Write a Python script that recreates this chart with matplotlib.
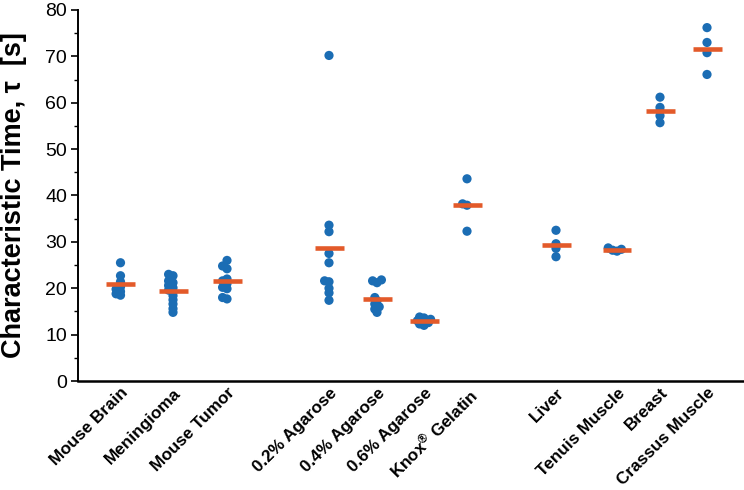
import numpy as np
import matplotlib.pyplot as plt
from matplotlib.ticker import MultipleLocator

plt.rcParams['font.family'] = ['Liberation Sans', 'DejaVu Sans']
plt.rcParams['mathtext.fontset'] = 'custom'
plt.rcParams['mathtext.rm'] = 'Liberation Sans:bold'
plt.rcParams['mathtext.it'] = 'Liberation Sans:bold'
plt.rcParams['mathtext.bf'] = 'Liberation Sans:bold'

# data
categories = ['Mouse Brain', 'Meningioma', 'Mouse Tumor', '0.2% Agarose', '0.4% Agarose',
              '0.6% Agarose', 'Knox$^{®}$ Gelatin', 'Liver', 'Tenuis Muscle', 'Breast',
              'Crassus Muscle']
mouse_brain = [25.5, 22.7, 21.4, 20.3, 19.8, 19.3, 18.8, 18.5]
meningioma = [23.0, 22.7, 21.6, 21.2, 20.6, 20.1, 19.6, 19.2, 18.4, 17.5, 16.6, 15.6, 14.8]
mouse_tumor = [26.0, 24.8, 24.2, 22.0, 21.6, 21.0, 20.2, 19.9, 18.0, 17.7]
agarose_02 = [70.2, 33.6, 32.2, 27.5, 25.5, 21.6, 21.4, 20.0, 19.0, 17.4]
agarose_04 = [21.8, 21.6, 21.2, 18.0, 17.3, 16.6, 16.0, 15.5, 14.8]
agarose_06 = [13.8, 13.6, 13.3, 13.0, 12.8, 12.6, 12.3, 12.0]
knox = [43.6, 38.2, 37.9, 32.3]
liver = [32.5, 29.6, 28.6, 26.8]
tenuis = [28.7, 28.4, 28.2, 28.0]
breast = [61.2, 59.0, 58.2, 57.2, 55.7]
crassus = [76.2, 73.0, 70.8, 66.1]
medians = [21.0, 19.3, 21.5, 28.7, 17.7, 12.9, 38.0, 29.3, 28.3, 58.3, 71.5]

groups = [mouse_brain, meningioma, mouse_tumor, agarose_02, agarose_04, agarose_06,
          knox, liver, tenuis, breast, crassus]
# category positions on the x axis (groups separated by gaps)
xpos = [0.85, 1.9, 2.98, 5.02, 5.98, 6.92, 7.78, 9.56, 10.78, 11.64, 12.58]

blue = '#1b6db4'
orange = '#e35a2a'

fig = plt.figure(figsize=(7.44, 4.90), dpi=100)
ax = fig.add_axes([78 / 744, 109 / 490, 1 - 78 / 744, 371 / 490])
ax.set_xlim(0, 13.32)
ax.set_ylim(0, 80)

# pixel scales, used only to spread overlapping dots sideways
py_per_y = 371 / 80
px_per_x = 50


def swarm(vals, dmin=3.6, step=2.2):
    placed = []
    offs = np.zeros(len(vals))
    order = np.argsort(vals)
    for i in order:
        y = vals[i] * py_per_y
        k = 0
        while True:
            sign = 1 if k % 2 == 0 else -1
            o = sign * ((k + 1) // 2) * step
            if all((o - po) ** 2 + (y - py) ** 2 >= dmin ** 2 for po, py in placed):
                break
            k += 1
        placed.append((o, y))
        offs[i] = o / px_per_x
    return offs


for x, vals, med in zip(xpos, groups, medians):
    vals = np.array(vals)
    ax.scatter(x + swarm(vals), vals, s=44, color=blue, edgecolors='none', zorder=2)
    ax.hlines(med, x - 0.29, x + 0.29, color=orange, lw=3.3, zorder=3, capstyle='butt')

ax.spines['top'].set_visible(False)
ax.spines['right'].set_visible(False)
ax.spines['left'].set_linewidth(1.4)
ax.spines['bottom'].set_linewidth(1.8)

ax.yaxis.set_major_locator(MultipleLocator(10))
ax.yaxis.set_minor_locator(MultipleLocator(5))
ax.tick_params(axis='y', which='major', direction='out', length=5, width=1.2,
               labelsize=14, pad=3)
ax.tick_params(axis='y', which='minor', direction='out', length=3, width=1.0)
ax.tick_params(axis='x', length=0, pad=3)

ax.set_xticks(xpos)
ax.set_xticklabels(categories, rotation=45, ha='right', va='top',
                   rotation_mode='anchor', fontsize=12.3, fontweight='bold')

ax.set_ylabel('Characteristic Time, τ  [s]', fontsize=19.5, fontweight='bold', labelpad=13)

fig.savefig('out.png', dpi=100)
